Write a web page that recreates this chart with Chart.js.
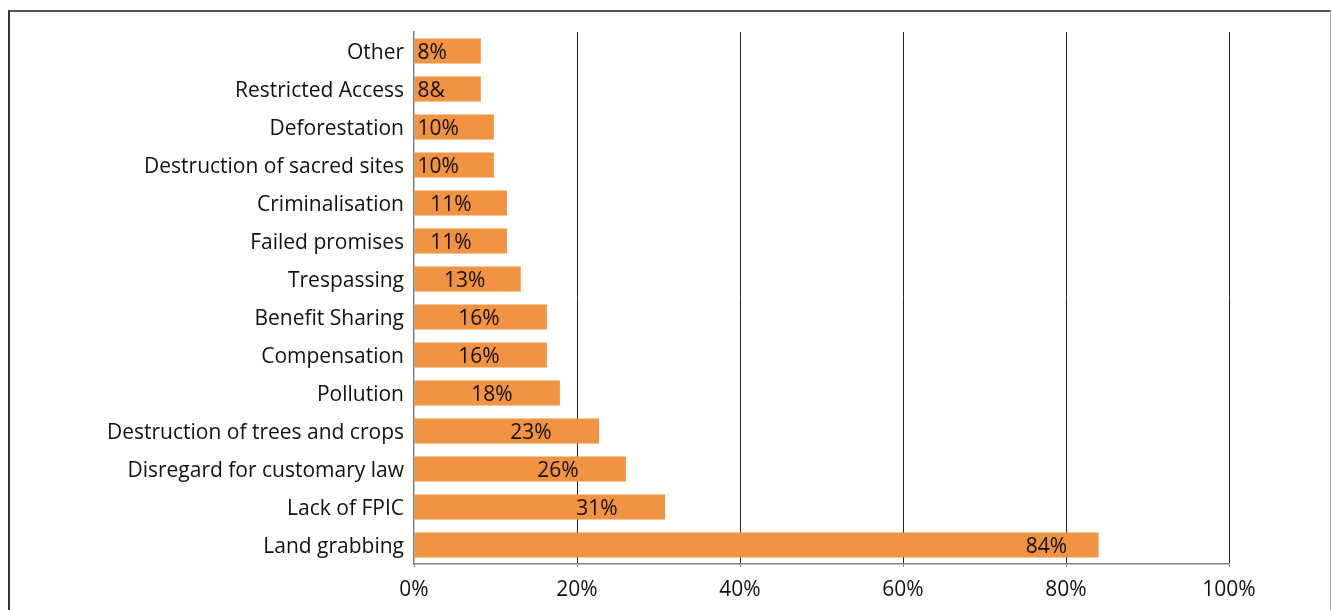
<!DOCTYPE html>
<html>
<head>
<meta charset="utf-8">
<script src="https://cdn.jsdelivr.net/npm/chart.js@4.4.1/dist/chart.umd.min.js"></script>
<style>
  html, body { margin: 0; padding: 0; background: #fff; }
  #wrap { position: relative; width: 1333px; height: 610px; overflow: hidden; }
  #frame { position: absolute; left: 8px; top: 10px; width: 1323px; height: 700px;
           border-left: 2px solid #333; border-top: 2px solid #555; border-right: 1px solid #aaa; box-sizing: border-box; }
  canvas { position: absolute; left: 0; top: 0; }
</style>
</head>
<body>
<div id="wrap">
  <div id="frame"></div>
  <canvas id="c" width="1333" height="610"></canvas>
</div>
<script>
const categories = ["Other", "Restricted Access", "Deforestation", "Destruction of sacred sites",
  "Criminalisation", "Failed promises", "Trespassing", "Benefit Sharing", "Compensation",
  "Pollution", "Destruction of trees and crops", "Disregard for customary law", "Lack of FPIC", "Land grabbing"];
const values = [8.2, 8.2, 9.8, 9.8, 11.4, 11.4, 13.1, 16.3, 16.3, 17.9, 22.7, 26.0, 30.8, 84.0];
const valueLabels = ["8%", "8&", "10%", "10%", "11%", "11%", "13%", "16%", "16%", "18%", "23%", "26%", "31%", "84%"];
const xTicks = [0, 20, 40, 60, 80, 100];

const FONT = "'Open Sans', 'Noto Sans', sans-serif";
const TEXT = "#111";

const labelPlugin = {
  id: 'barLabels',
  afterDatasetsDraw(chart) {
    const ctx = chart.ctx;
    const meta = chart.getDatasetMeta(0);
    ctx.save();
    ctx.font = "21px " + FONT;
    ctx.fillStyle = TEXT;
    ctx.textAlign = 'center';
    ctx.textBaseline = 'middle';
    meta.data.forEach((bar, i) => {
      const txt = valueLabels[i];
      const tw = ctx.measureText(txt).width;
      const start = bar.base;
      const end = bar.x;
      const v = values[i];
      let d = v < 15 ? 56 : 68 - 0.3 * Math.max(0, v - 31);
      let cx = Math.max(start + 3 + tw / 2, end - d);
      ctx.fillText(txt, cx, bar.y + 2);
    });
    ctx.restore();
  }
};

new Chart(document.getElementById('c'), {
  type: 'bar',
  data: {
    labels: categories,
    datasets: [{
      data: values,
      backgroundColor: '#F19340',
      borderWidth: 0,
      categoryPercentage: 1.0,
      barPercentage: 0.66
    }]
  },
  options: {
    indexAxis: 'y',
    responsive: false,
    animation: false,
    devicePixelRatio: 1,
    layout: { padding: { left: 0, right: 104, top: 32, bottom: 0 } },
    plugins: { legend: { display: false }, tooltip: { enabled: false } },
    scales: {
      x: {
        min: 0, max: 100,
        afterBuildTicks(scale) { scale.ticks = xTicks.map(v => ({ value: v })); },
        afterFit(scale) { scale.height = 46; },
        grid: {
          color: ctx => (ctx.tick && ctx.tick.value === 0) ? 'rgba(0,0,0,0)' : '#222',
          lineWidth: 1,
          drawTicks: true,
          tickLength: 3,
          tickColor: '#808080'
        },
        border: { display: true, color: '#808080', width: 1.5 },
        ticks: {
          font: { family: FONT, size: 21 },
          color: TEXT,
          padding: 10,
          callback: v => v + '%'
        }
      },
      y: {
        afterFit(scale) { scale.width = 414; },
        grid: { display: false, drawTicks: false },
        border: { display: true, color: '#808080', width: 1.5 },
        ticks: {
          font: { family: FONT, size: 21 },
          color: TEXT,
          padding: 10,
          labelOffset: 2
        }
      }
    }
  },
  plugins: [labelPlugin]
});
</script>
</body>
</html>
